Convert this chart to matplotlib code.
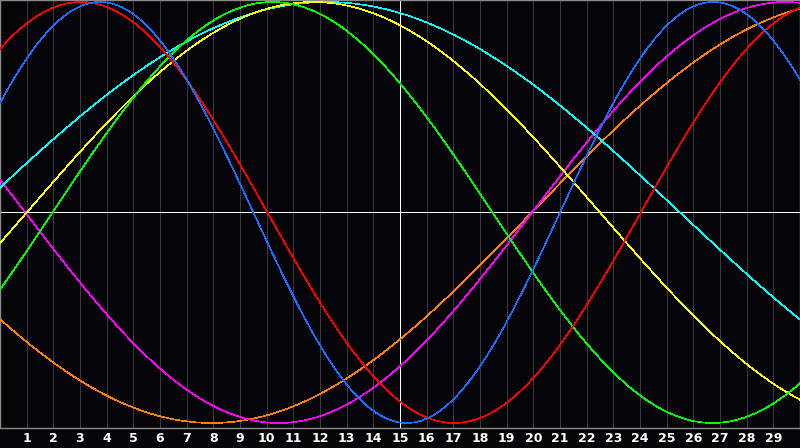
import numpy as np
import matplotlib
matplotlib.use("Agg")
import matplotlib.pyplot as plt

# Biorhythm cycles (period in days, day of upward zero crossing)
cycle_names = ["physical", "emotional", "intellectual", "intuitive", "aesthetic", "awareness", "spiritual"]
periods = [23, 28, 33, 38, 43, 48, 53]
upward_zero_day = [-2.0, -3.97, 1.97, 19.95, 1.0, 19.94, -1.0]
colors = ["#1a6eff", "#ff0000", "#00ff00", "#ff00ff", "#ffff00", "#ff8000", "#00ffff"]

day_labels = [str(d) for d in range(1, 30)]
n_days = 30

fig = plt.figure(figsize=(8, 4.48), dpi=100, facecolor="#050408")
ax = fig.add_axes([0, 20 / 448, 1, 428 / 448])
ax.set_facecolor("#050408")

ax.set_xlim(0, n_days)
ax.set_ylim(-1.0238, 1.0095)

# vertical grid
for d in range(1, n_days):
    c = "#ffffff" if d == 15 else "#3a3a3a"
    ax.axvline(d, color=c, lw=0.72, zorder=1, antialiased=False)
ax.axhline(0, color="#ffffff", lw=0.72, zorder=1, antialiased=False)

t = np.linspace(0, n_days, 1601)
order = [5, 3, 6, 4, 2, 1, 0]
for i in order:
    y = np.sin(2 * np.pi * (t - upward_zero_day[i]) / periods[i])
    ax.plot(t, y, color=colors[i], lw=0.45, zorder=3, antialiased=False)

for s in ax.spines.values():
    s.set_color("#8a8a8a")
    s.set_linewidth(1.0)

ax.set_yticks([])
ax.set_xticks(range(1, n_days))
ax.set_xticklabels(day_labels, color="white", fontsize=9, fontweight="bold",
                   family="DejaVu Sans")
ax.tick_params(axis="x", length=0, pad=3)

fig.savefig("out.png", dpi=100, facecolor=fig.get_facecolor())
